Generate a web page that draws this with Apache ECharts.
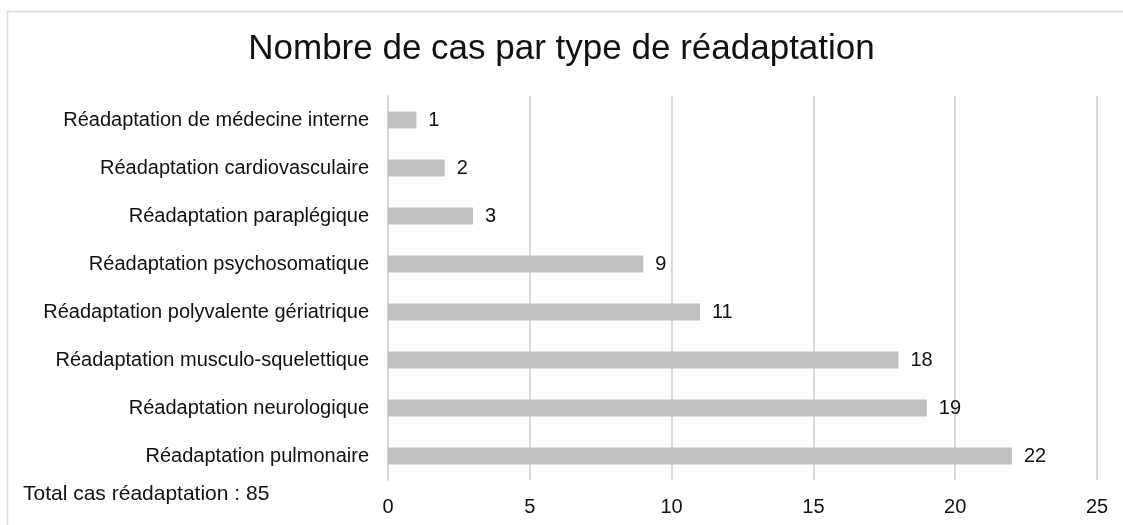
<!DOCTYPE html>
<html>
<head>
<meta charset="utf-8">
<script src="https://cdn.jsdelivr.net/npm/echarts@6/dist/echarts.min.js"></script>
<style>
  html, body { margin: 0; padding: 0; background: #fff; }
  #chart { width: 1123px; height: 525px; }
</style>
</head>
<body>
<div id="chart"></div>
<script>
// types de réadaptation, du bas vers le haut
var categories = [
  'Réadaptation pulmonaire',
  'Réadaptation neurologique',
  'Réadaptation musculo-squelettique',
  'Réadaptation polyvalente gériatrique',
  'Réadaptation psychosomatique',
  'Réadaptation paraplégique',
  'Réadaptation cardiovasculaire',
  'Réadaptation de médecine interne'
];
var cases = [22, 19, 18, 11, 9, 3, 2, 1];
var totalText = 'Total cas réadaptation : 85';

var chart = echarts.init(document.getElementById('chart'));
var font = 'Liberation Sans, Arial, sans-serif';

var option = {
  animation: false,
  title: {
    text: 'Nombre de cas par type de réadaptation',
    left: 'center',
    top: 27,
    textStyle: { fontFamily: font, fontSize: 35, fontWeight: 'normal', color: '#111' }
  },
  graphic: [
    {
      type: 'rect',
      shape: { x: 7.5, y: 11.5, width: 1200, height: 600 },
      style: { fill: 'none', stroke: '#d9d9d9', lineWidth: 1.5 }
    },
    {
      type: 'text',
      left: 23,
      top: 484,
      style: { text: totalText, fontFamily: font, fontSize: 21, fill: '#111' }
    }
  ],
  grid: { left: 388, right: 26, top: 96, bottom: 45, containLabel: false },
  xAxis: {
    type: 'value',
    min: 0,
    max: 25,
    interval: 5,
    axisLine: { show: false },
    axisTick: { show: false },
    splitLine: { show: true, lineStyle: { color: '#d9d9d9', width: 2 } },
    axisLabel: { margin: 17, fontFamily: font, fontSize: 20, color: '#111' }
  },
  yAxis: {
    type: 'category',
    data: categories,
    axisLine: { show: true, lineStyle: { color: '#d9d9d9', width: 2 } },
    axisTick: { show: false },
    axisLabel: { margin: 19, fontFamily: font, fontSize: 20, color: '#111' }
  },
  series: [{
    type: 'bar',
    data: cases,
    barWidth: '35%',
    itemStyle: { color: '#bfbfbf' },
    label: {
      show: true,
      position: 'right',
      distance: 12,
      fontFamily: font,
      fontSize: 20,
      color: '#111'
    }
  }]
};

chart.setOption(option);
</script>
</body>
</html>
